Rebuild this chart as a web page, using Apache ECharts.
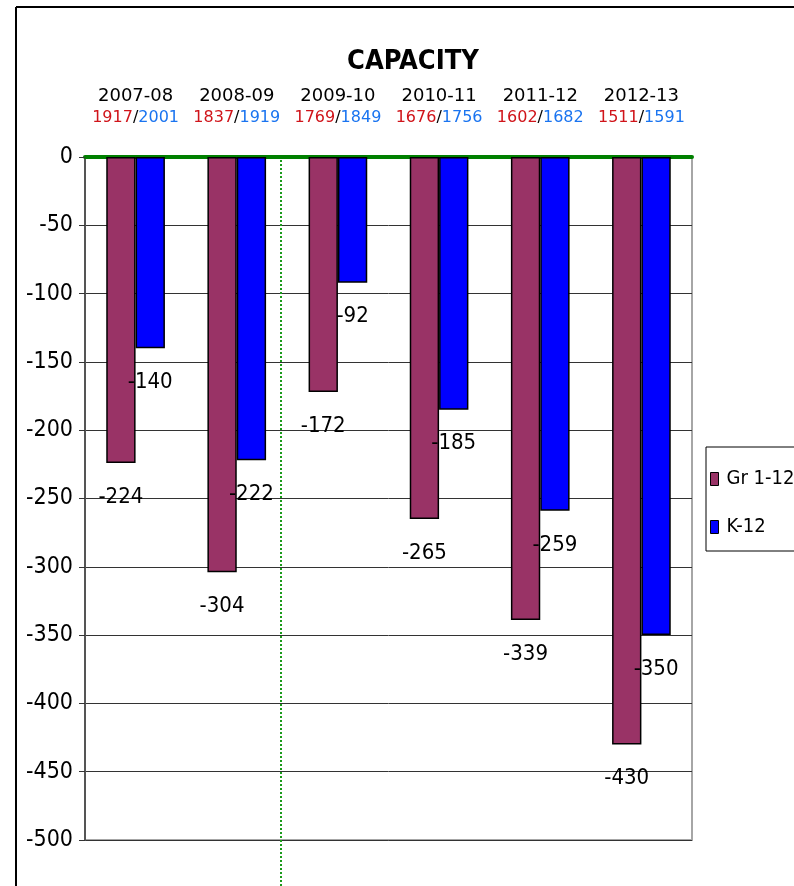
<!DOCTYPE html>
<html><head><meta charset="utf-8">
<script src="https://cdn.jsdelivr.net/npm/echarts@6/dist/echarts.min.js"></script>
<style>html,body{margin:0;padding:0;background:#fff}#c{width:794px;height:886px}</style>
</head><body><div id="c"></div>
<script>
const years = ['2007-08','2008-09','2009-10','2010-11','2011-12','2012-13'];
const grEnroll = [1917,1837,1769,1676,1602,1511];
const kEnroll = [2001,1919,1849,1756,1682,1591];
const gr112 = [-224,-304,-172,-265,-339,-430];
const k12 = [-140,-222,-92,-185,-259,-350];

const NARROW = '"Liberation Sans Narrow","DejaVu Sans Condensed",sans-serif';
const REG = '"DejaVu Sans",sans-serif';
const chart = echarts.init(document.getElementById('c'));
const labelStyle = {show:true, position:'bottom', distance:23, fontFamily:NARROW, fontSize:22, color:'#000'};
chart.setOption({
  animation:false,
  title:{text:'CAPACITY', left:408, textAlign:'center', top:43,
    textStyle:{fontFamily:NARROW, fontSize:27, fontWeight:'bold', color:'#000'}},
  legend:{orient:'vertical', left:706, top:447, padding:[22,8,14,4], itemGap:28,
    icon:'rect', itemWidth:8, itemHeight:13, borderColor:'#000', borderWidth:1,
    itemStyle:{borderColor:'#000', borderWidth:1},
    textStyle:{fontFamily:NARROW, fontSize:20, color:'#000', padding:[0,0,0,3]},
    data:['Gr 1-12','K-12']},
  grid:{left:85, top:157, right:102, bottom:46, show:true, borderColor:'#a6a6a6', borderWidth:2},
  xAxis:{type:'category', position:'top', data:years,
    axisLine:{onZero:false, lineStyle:{color:'#008000', width:4}},
    axisTick:{show:false},
    axisLabel:{margin:28, interval:0, fontFamily:REG, fontSize:18, lineHeight:22,
      formatter:(v,i)=>'{y|'+v+'}\n{r|'+grEnroll[i]+'}{s|/}{b|'+kEnroll[i]+'}',
      rich:{y:{color:'#000',fontSize:18,fontFamily:REG,lineHeight:22},
            r:{color:'#d0141a',fontSize:16,fontFamily:REG,lineHeight:22},
            s:{color:'#000',fontSize:16,fontFamily:REG,lineHeight:22},
            b:{color:'#1a74f0',fontSize:16,fontFamily:REG,lineHeight:22}}}},
  yAxis:{type:'value', min:-500, max:0, interval:50,
    axisLine:{show:true, lineStyle:{color:'#555', width:2}},
    axisTick:{show:true, length:6, lineStyle:{color:'#333'}},
    axisLabel:{margin:12, fontFamily:NARROW, fontSize:23, color:'#000'},
    splitLine:{lineStyle:{color:'#333', width:1}}},
  series:[
    {name:'Gr 1-12', type:'bar', data:gr112, barGap:'0%', barCategoryGap:'42%',
      itemStyle:{color:'#993366', borderColor:'#000', borderWidth:1.5}, label:labelStyle},
    {name:'K-12', type:'bar', data:k12,
      itemStyle:{color:'#0000ff', borderColor:'#000', borderWidth:1.5}, label:labelStyle}
  ],
  graphic:[
    {type:'line', shape:{x1:16,y1:7,x2:794,y2:7}, style:{stroke:'#000', lineWidth:2}},
    {type:'line', shape:{x1:16,y1:7,x2:16,y2:886}, style:{stroke:'#000', lineWidth:2}},
    {type:'line', z:1, shape:{x1:281,y1:160,x2:281,y2:886}, style:{stroke:'#1a9a1a', lineWidth:2, lineDash:[2,2]}}
  ]
});
</script></body></html>
